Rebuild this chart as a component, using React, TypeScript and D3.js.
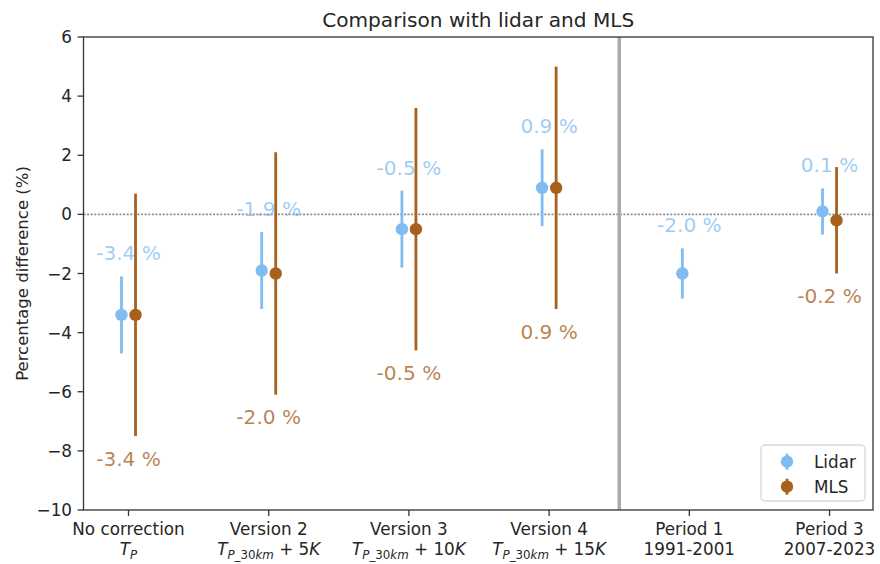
import React from "react";
import * as d3 from "d3";

// Categories along the x axis (first line) and their second-line descriptions
const categories = ["No correction", "Version 2", "Version 3", "Version 4", "Period 1", "Period 3"];
const subtitles = ["T_{P}", "T_{P_30km} + 5K", "T_{P_30km} + 10K", "T_{P_30km} + 15K", "1991-2001", "2007-2023"];
const mathSubtitle = [true, true, true, true, false, false];

// Mean percentage differences and their uncertainties
const lidarMean = [-3.4, -1.9, -0.5, 0.9, -2.0, 0.1];
const lidarErr = [1.3, 1.3, 1.3, 1.3, 0.85, 0.78];
const mlsMean: (number | null)[] = [-3.4, -2.0, -0.5, 0.9, null, -0.2];
const mlsErr: (number | null)[] = [4.1, 4.1, 4.1, 4.1, null, 1.8];

const yTicks = [6, 4, 2, 0, -2, -4, -6, -8, -10];

const W = 880;
const H = 564;
const FONT = "DejaVu Sans, Verdana, sans-serif";
const LIDAR = "#80bbf1";
const MLS = "#a8611d";
const AXIS = "#333333";

const x = d3.scaleLinear().domain([-0.321, 5.31]).range([83.5, 873]);
const y = d3.scaleLinear().domain([-10, 6]).range([510, 37]);

const fmtTick = (v: number) => (v < 0 ? "\u2212" + Math.abs(v) : String(v));

// Render a tiny mathtext-like string: letters italic, digits/symbols upright, _{...} as subscript
function mathSpans(s: string, keyBase: string) {
  const out: React.ReactNode[] = [];
  const m = s.match(/^(.*?)_\{(.*?)\}(.*)$/);
  const styled = (txt: string, size: number, k: string, first?: { dy: number }) => {
    const parts = txt.match(/[A-Za-z]+|[^A-Za-z]+/g) || [];
    return parts.map((p, i) => (
      <tspan
        key={k + i}
        fontStyle={/[A-Za-z]/.test(p) ? "italic" : "normal"}
        fontSize={size}
        dy={i === 0 && first ? first.dy : undefined}
      >
        {p}
      </tspan>
    ));
  };
  if (m) {
    out.push(...styled(m[1], 16.8, keyBase + "a"));
    out.push(...styled(m[2], 11.8, keyBase + "b", { dy: 4 }));
    out.push(...styled(m[3], 16.8, keyBase + "c", { dy: -4 }));
  } else {
    out.push(...styled(s, 16.8, keyBase + "a"));
  }
  return out;
}

export default function App() {
  const off = 0.05;
  return (
    <svg
      width={W}
      height={H}
      style={{ position: "absolute", left: 0, top: 0, background: "#fff" }}
      fontFamily={FONT}
    >
      {/* zero reference line */}
      <line x1={x(-0.321)} x2={x(5.31)} y1={y(0)} y2={y(0)} stroke="#8c8c8c" strokeWidth={1.8} strokeDasharray="2,1.6" />

      {/* separator between versions and periods */}
      <line x1={x(3.5)} x2={x(3.5)} y1={y(6)} y2={y(-10)} stroke="#ababab" strokeWidth={3.5} />

      {/* lidar error bars */}
      {lidarMean.map((m, i) => (
        <g key={"l" + i}>
          <line x1={x(i - off)} x2={x(i - off)} y1={y(m + lidarErr[i])} y2={y(m - lidarErr[i])} stroke={LIDAR} strokeWidth={2.8} />
          <circle cx={x(i - off)} cy={y(m)} r={6.2} fill={LIDAR} />
        </g>
      ))}

      {/* MLS error bars */}
      {mlsMean.map((m, i) =>
        m === null ? null : (
          <g key={"m" + i}>
            <line x1={x(i + off)} x2={x(i + off)} y1={y(m + (mlsErr[i] as number))} y2={y(m - (mlsErr[i] as number))} stroke={MLS} strokeWidth={2.8} />
            <circle cx={x(i + off)} cy={y(m)} r={6.2} fill={MLS} />
          </g>
        )
      )}

      {/* value annotations */}
      {lidarMean.map((m, i) => (
        <text key={"lt" + i} x={x(i)} y={y(m + lidarErr[i] + 0.54)} textAnchor="middle" fontSize={20.1} fill={LIDAR} fillOpacity={0.75}>
          {m.toFixed(1) + " %"}
        </text>
      ))}
      {mlsMean.map((m, i) =>
        m === null ? null : (
          <text key={"mt" + i} x={x(i)} y={y(m - (mlsErr[i] as number) - 1.0)} textAnchor="middle" fontSize={20.1} fill={MLS} fillOpacity={0.78}>
            {m.toFixed(1) + " %"}
          </text>
        )
      )}

      {/* frame */}
      <rect x={x(-0.321)} y={y(6)} width={x(5.31) - x(-0.321)} height={y(-10) - y(6)} fill="none" stroke={AXIS} strokeWidth={1.3} />

      {/* y axis */}
      {yTicks.map((t) => (
        <g key={"yt" + t}>
          <line x1={x(-0.321) - 5.9} x2={x(-0.321)} y1={y(t)} y2={y(t)} stroke={AXIS} strokeWidth={1.3} />
          <text x={x(-0.321) - 11.5} y={y(t)} dy="0.36em" textAnchor="end" fontSize={16.8} fill="#262626">
            {fmtTick(t)}
          </text>
        </g>
      ))}
      <text transform={`translate(28,${(y(6) + y(-10)) / 2}) rotate(-90)`} textAnchor="middle" fontSize={16.5} fill="#262626">
        Percentage difference (%)
      </text>

      {/* x axis */}
      {categories.map((c, i) => (
        <g key={"xt" + i}>
          <line x1={x(i)} x2={x(i)} y1={y(-10)} y2={y(-10) + 5.9} stroke={AXIS} strokeWidth={1.3} />
          <text x={x(i)} y={535} textAnchor="middle" fontSize={16.8} fill="#262626">
            {c}
          </text>
          <text x={x(i)} y={555} textAnchor="middle" fontSize={16.8} fill="#262626">
            {mathSubtitle[i] ? mathSpans(subtitles[i], "s" + i) : subtitles[i]}
          </text>
        </g>
      ))}

      {/* title */}
      <text x={(x(-0.321) + x(5.31)) / 2} y={26.5} textAnchor="middle" fontSize={20.1} fill="#262626">
        Comparison with lidar and MLS
      </text>

      {/* legend */}
      <g>
        <rect x={761} y={445} width={104} height={56} rx={4} fill="#fff" fillOpacity={0.8} stroke="#d9d9d9" strokeWidth={1.3} />
        {[
          { name: "Lidar", color: LIDAR },
          { name: "MLS", color: MLS },
        ].map((d, i) => (
          <g key={d.name} transform={`translate(787,${461.7 + i * 25})`}>
            <line x1={0} x2={0} y1={-8} y2={8} stroke={d.color} strokeWidth={2.8} />
            <circle cx={0} cy={0} r={6.2} fill={d.color} />
            <text x={27} y={0} dy="0.36em" fontSize={16.8} fill="#262626">
              {d.name}
            </text>
          </g>
        ))}
      </g>
    </svg>
  );
}
